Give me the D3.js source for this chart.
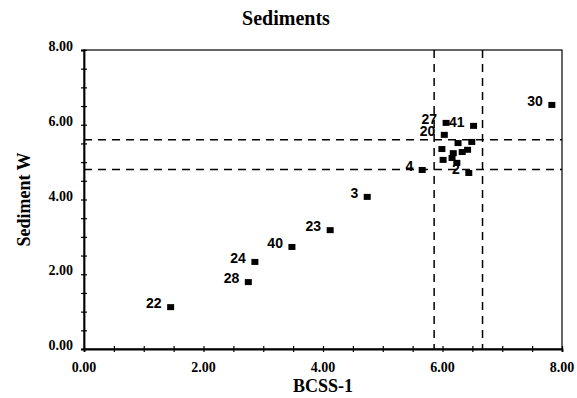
<!DOCTYPE html>
<html><head><meta charset="utf-8">
<script src="https://cdn.jsdelivr.net/npm/d3@7"></script>
<style>body{margin:0;background:#fff}svg{display:block}</style>
</head><body>
<script>
const labels = ["22","28","24","40","23","3","4","2","20","27","41","30","","","","","","","","",""];
const xVals  = [1.45,2.75,2.86,3.48,4.12,4.74,5.66,6.44,6.03,6.06,6.52,7.83,5.99,6.26,6.49,6.18,6.33,6.01,6.16,6.24,6.42];
const yVals  = [1.12,1.79,2.33,2.73,3.18,4.07,4.79,4.71,5.73,6.05,5.97,6.53,5.35,5.51,5.54,5.24,5.27,5.06,5.11,4.98,5.33];
const hLines = [5.6, 4.8];
const vLines = [5.86, 6.67];
const tickLabels = ["0.00","2.00","4.00","6.00","8.00"];
const tickLabelVals = [0,2,4,6,8];
const minorTicks = d3.range(0, 8.01, 0.5);

const W = 577, H = 398;
const m = {l:84, r:15, t:50, b:49};
const svg = d3.select("body").append("svg").attr("width", W).attr("height", H);
const x = d3.scaleLinear().domain([0,8]).range([m.l, W - m.r]);
const y = d3.scaleLinear().domain([0,8]).range([H - m.b, m.t]);
const serif = "'Liberation Serif','Times New Roman',serif";
const sans = "'Liberation Sans',Arial,sans-serif";

// frame
svg.append("rect").attr("x", x(0)).attr("y", y(8)).attr("width", x(8)-x(0)).attr("height", y(0)-y(8))
  .attr("fill","none").attr("stroke","#000").attr("stroke-width",1.2);

// axes
const xa = svg.append("g").attr("transform",`translate(0,${y(0)})`)
  .call(d3.axisBottom(x).tickValues(minorTicks).tickSize(3).tickFormat(""));
xa.select(".domain").attr("stroke-width",1.8);
xa.selectAll(".tick line").attr("y1",-3).attr("y2",3).attr("stroke-width",1.2);
const ya = svg.append("g").attr("transform",`translate(${x(0)},0)`)
  .call(d3.axisLeft(y).tickValues(minorTicks).tickSize(3).tickFormat(""));
ya.select(".domain").attr("stroke-width",1.8);
ya.selectAll(".tick line").attr("x1",-3).attr("x2",3).attr("stroke-width",1.2);

// tick labels
svg.append("g").selectAll("text").data(tickLabelVals).join("text")
  .attr("x", d => x(d)).attr("y", y(0) + 23).attr("text-anchor","middle")
  .attr("font-family", serif).attr("font-weight","bold").attr("font-size",14)
  .text((d,i) => tickLabels[i]);
svg.append("g").selectAll("text").data(tickLabelVals).join("text")
  .attr("x", x(0) - 11).attr("y", d => y(d) + 1).attr("text-anchor","end")
  .attr("font-family", serif).attr("font-weight","bold").attr("font-size",14)
  .text((d,i) => tickLabels[i]);

// dashed reference lines
svg.append("g").selectAll("line").data(hLines).join("line")
  .attr("x1", x(0)).attr("x2", x(8)).attr("y1", d => y(d)).attr("y2", d => y(d))
  .attr("stroke","#000").attr("stroke-width",1.5).attr("stroke-dasharray","8,6");
svg.append("g").selectAll("line").data(vLines).join("line")
  .attr("x1", d => x(d)).attr("x2", d => x(d)).attr("y1", y(8)).attr("y2", y(0))
  .attr("stroke","#000").attr("stroke-width",1.5).attr("stroke-dasharray","8,6");

// points
const pts = xVals.map((v,i) => ({x:v, y:yVals[i], l:labels[i]}));
svg.append("g").selectAll("rect").data(pts).join("rect")
  .attr("x", d => x(d.x) - 3.5).attr("y", d => y(d.y) - 3).attr("width",7).attr("height",6).attr("fill","#000");
svg.append("g").selectAll("text").data(pts.filter(d => d.l)).join("text")
  .attr("x", d => x(d.x) - 9).attr("y", d => y(d.y) + 1).attr("text-anchor","end")
  .attr("font-family", sans).attr("font-weight","bold").attr("font-size",14)
  .text(d => d.l);

// titles
svg.append("text").attr("x", 286).attr("y", 25).attr("text-anchor","middle")
  .attr("font-family", serif).attr("font-weight","bold").attr("font-size",20).text("Sediments");
svg.append("text").attr("x", x(4)).attr("y", 392).attr("text-anchor","middle")
  .attr("font-family", serif).attr("font-weight","bold").attr("font-size",18).text("BCSS-1");
svg.append("text").attr("transform", `translate(30,${y(4)}) rotate(-90)`).attr("text-anchor","middle")
  .attr("font-family", serif).attr("font-weight","bold").attr("font-size",18).text("Sediment W");
</script>
</body></html>
